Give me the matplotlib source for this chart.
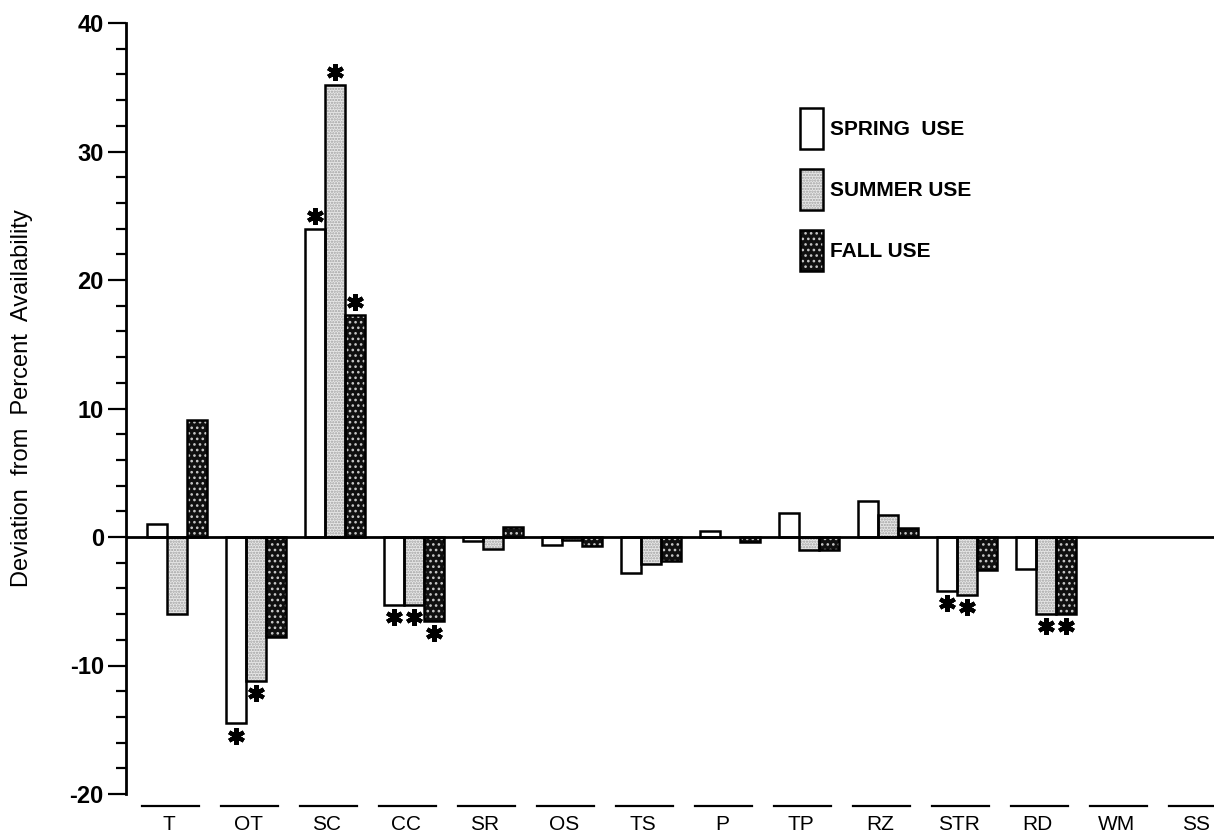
import matplotlib
matplotlib.use("Agg")
import matplotlib.pyplot as plt
from matplotlib import font_manager
from matplotlib.patches import Patch
from matplotlib.legend_handler import HandlerTuple
import numpy as np

categories = ["T", "OT", "SC", "CC", "SR", "OS", "TS", "P", "TP", "RZ", "STR", "RD", "WM", "SS"]
spring = [1.0, -14.5, 24.0, -5.3, -0.3, -0.6, -2.8, 0.45, 1.85, 2.8, -4.2, -2.5, 0.0, 0.0]
summer = [-6.0, -11.2, 35.2, -5.3, -0.9, -0.2, -2.1, 0.0, -1.0, 1.7, -4.5, -6.0, 0.0, 0.0]
fall = [9.1, -7.8, 17.3, -6.5, 0.8, -0.7, -1.9, -0.4, -1.0, 0.7, -2.6, -6.0, 0.0, 0.0]
# significance flags (asterisks)
spring_sig = [0, 1, 1, 1, 0, 0, 0, 0, 0, 0, 1, 0, 0, 0]
summer_sig = [0, 1, 1, 1, 0, 0, 0, 0, 0, 0, 1, 1, 0, 0]
fall_sig = [0, 0, 1, 1, 0, 0, 0, 0, 0, 0, 0, 1, 0, 0]
series_names = ["SPRING  USE", "SUMMER USE", "FALL USE"]
ylabel = "Deviation  from  Percent  Availability"

names = {f.name for f in font_manager.fontManager.ttflist}
narrow = "Liberation Sans Narrow" if "Liberation Sans Narrow" in names else "Liberation Sans"

plt.rcParams["font.family"] = ["Liberation Sans", "DejaVu Sans"]
plt.rcParams["hatch.linewidth"] = 1.1

W, H = 1214, 833
fig = plt.figure(figsize=(W / 100, H / 100), dpi=100)
ax = fig.add_axes([126 / W, 39 / H, (W - 126) / W, (794 - 23) / H])

x = np.arange(len(categories))
bw = 0.253
shift = 0.05
styles = [
    dict(face="white", hatch=None, hcol="white"),
    dict(face="#e8e8e8", hatch="......", hcol="#a0a0a0"),
    dict(face="#101010", hatch="...", hcol="#c8c8c8"),
]
data = [spring, summer, fall]
sigs = [spring_sig, summer_sig, fall_sig]
handles = []
for k, (vals, st, sg) in enumerate(zip(data, styles, sigs)):
    pos = x + (k - 1) * bw + shift
    vals = np.array(vals)
    mask = vals != 0
    ax.bar(pos[mask], vals[mask], width=bw, color=st["face"], hatch=st["hatch"],
           edgecolor=st["hcol"], linewidth=0, zorder=2)
    ax.bar(pos[mask], vals[mask], width=bw, facecolor="none", edgecolor="black",
           linewidth=1.8, zorder=3)
    sg = np.array(sg, dtype=bool)
    ys = vals[sg] + np.sign(vals[sg]) * 0.95
    ax.plot(pos[sg], ys, linestyle="none", marker=(6, 2, 0), markersize=12,
            markeredgewidth=3.0, color="black", zorder=4, clip_on=False)
    h1 = Patch(facecolor=st["face"], hatch=st["hatch"], edgecolor=st["hcol"], linewidth=0)
    h2 = Patch(facecolor="none", edgecolor="black", linewidth=1.8)
    handles.append((h1, h2))

ax.axhline(0, color="black", linewidth=2, zorder=5)

ax.set_xlim(-0.595, 13.18)
ax.set_ylim(-20, 40)
for s in ["top", "right", "bottom"]:
    ax.spines[s].set_visible(False)
ax.spines["left"].set_linewidth(2)
ax.set_xticks([])
ax.set_yticks(np.arange(-20, 41, 10))
ax.set_yticks(np.arange(-20, 41, 2), minor=True)
ax.set_yticklabels([str(v) if v >= 0 else "-" + str(-v) for v in range(-20, 41, 10)],
                   fontsize=17, fontweight="bold")
ax.tick_params(axis="y", which="major", length=13, width=1.6, pad=3)
ax.tick_params(axis="y", which="minor", length=7, width=1.6)

# category underlines and labels
for i, c in enumerate(categories):
    ax.plot([i - 0.03 - 0.36, i - 0.03 + 0.36], [-20.9, -20.9], color="black",
            linewidth=1.6, clip_on=False)
    ax.text(i - 0.05, -22.4, c, ha="center", va="center", fontsize=15,
            family=[narrow, "DejaVu Sans"], clip_on=False)

fig.text(22 / W, 1 - 398 / H, ylabel, rotation=90, ha="center", va="center", fontsize=17)

leg = ax.legend(handles, series_names, handler_map={tuple: HandlerTuple(ndivide=1, pad=0)},
                loc="upper left", bbox_to_anchor=(790 / W, 1 - 98 / H),
                bbox_transform=fig.transFigure, frameon=False, borderpad=0,
                handlelength=1.06, handleheight=2.65, labelspacing=0.95,
                handletextpad=0.34, prop=dict(weight="bold", size=15))

fig.savefig("out.png", dpi=100)
